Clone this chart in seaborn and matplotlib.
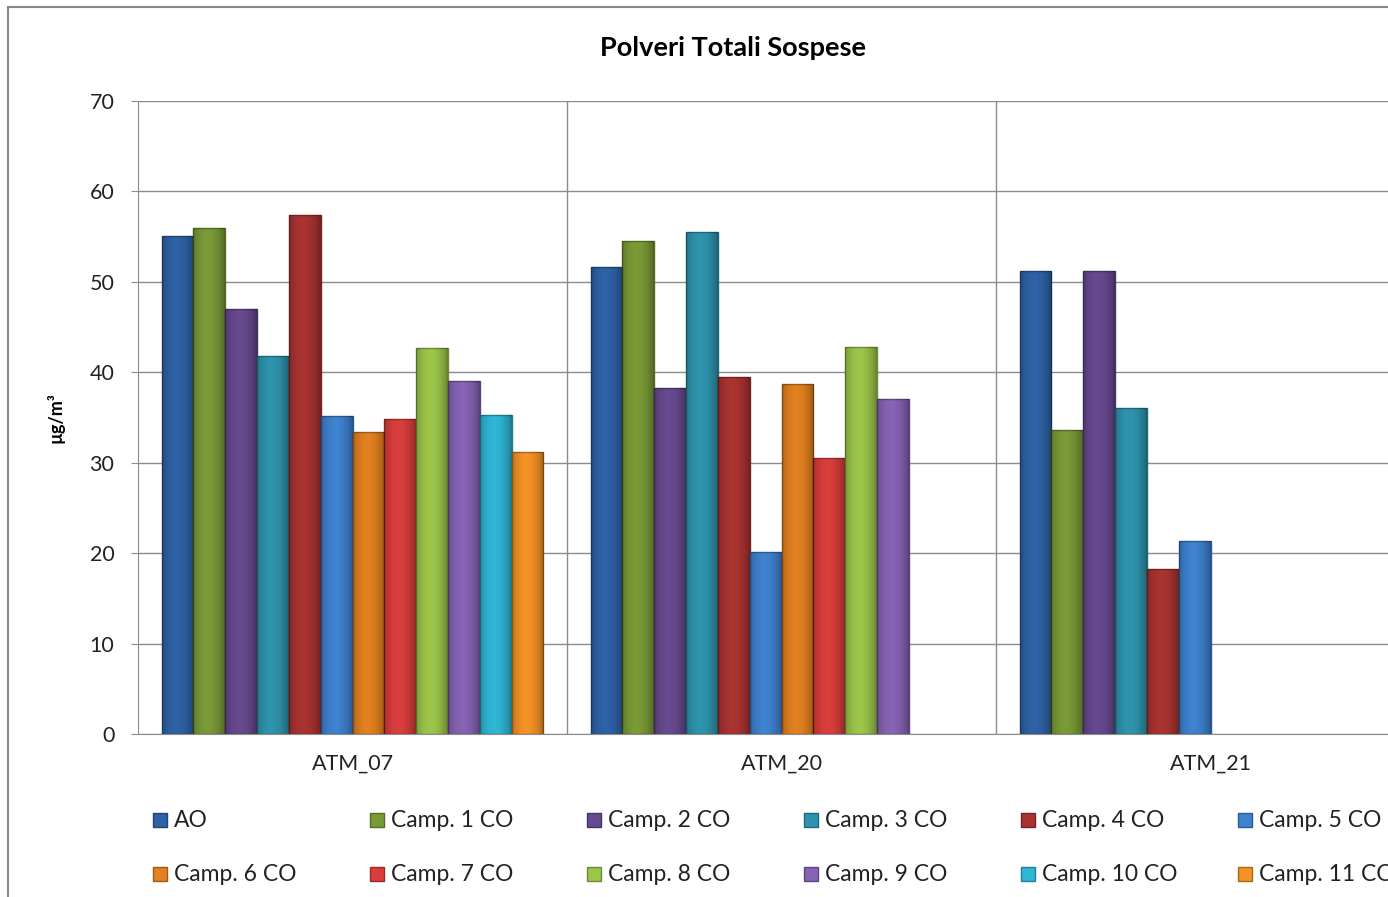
import pandas as pd
import numpy as np
import matplotlib
matplotlib.use('Agg')
import matplotlib.pyplot as plt
import matplotlib.patches as mpatches
import seaborn as sns

# Stazioni e campagne
stazioni = ['ATM_07', 'ATM_20', 'ATM_21']
campagne = ['AO', 'Camp. 1 CO', 'Camp. 2 CO', 'Camp. 3 CO', 'Camp. 4 CO', 'Camp. 5 CO',
            'Camp. 6 CO', 'Camp. 7 CO', 'Camp. 8 CO', 'Camp. 9 CO', 'Camp. 10 CO', 'Camp. 11 CO']

# Valori PTS (µg/m³) per stazione, nell'ordine delle campagne (None = non disponibile)
atm_07 = [55.1, 56.0, 47.0, 41.8, 57.4, 35.2, 33.4, 34.8, 42.7, 39.0, 35.3, 31.2]
atm_20 = [51.6, 54.5, 38.3, 55.5, 39.5, 20.1, 38.7, 30.5, 42.8, 37.0, None, None]
atm_21 = [51.2, 33.6, 51.2, 36.0, 18.2, 21.3, None, None, None, None, None, None]

colori = ['#2E62A6', '#7A9A37', '#67498F', '#2E94AD', '#A93331', '#3F82D0',
          '#E2811F', '#D93E3C', '#9BC64A', '#8763B3', '#2FB6D5', '#F59226']

righe = []
for stazione, valori in zip(stazioni, [atm_07, atm_20, atm_21]):
    for camp, v in zip(campagne, valori):
        if v is not None:
            righe.append({'stazione': stazione, 'campagna': camp, 'valore': v})
df = pd.DataFrame(righe)

plt.rcParams['font.family'] = ['Lato', 'DejaVu Sans']

fig = plt.figure(figsize=(13.88, 8.97), dpi=100)
W, H = 1388, 897
ax = fig.add_axes([138 / W, (H - 734) / H, 1287 / W, 633 / H])

sns.barplot(data=df, x='stazione', y='valore', hue='campagna', order=stazioni,
            hue_order=campagne, palette=colori, width=0.89, ax=ax,
            errorbar=None, legend=False, saturation=1)

# effetto rilievo: bordo scuro e ombreggiatura orizzontale
ombra = np.zeros((1, 64, 4))
t = np.linspace(0, 1, 64)
ombra[0, :, 3] = 0.32 * np.clip(np.abs(t - 0.45) / 0.55, 0, 1) ** 2
for patch in list(ax.patches):
    fc = np.array(patch.get_facecolor()[:3])
    patch.set_edgecolor(tuple(fc * 0.7))
    patch.set_linewidth(1.0)
    x0, w, h = patch.get_x(), patch.get_width(), patch.get_height()
    if np.isfinite(h) and h > 0:
        im = ax.imshow(ombra, extent=(x0, x0 + w, 0, h), aspect='auto', zorder=patch.get_zorder() + 0.1,
                       interpolation='bilinear')
        im.set_clip_path(patch)

ax.set_ylim(0, 70)
ax.set_xlim(-0.5, 2.5)
ax.set_yticks(range(0, 71, 10))
ax.yaxis.grid(True, color='#8C8C8C', linewidth=1)
ax.set_axisbelow(True)
for xb in [0.5, 1.5]:
    ax.axvline(xb, color='#8C8C8C', linewidth=1, zorder=0)
for side in ['top', 'right']:
    ax.spines[side].set_visible(False)
ax.spines['left'].set_color('#8C8C8C')
ax.spines['bottom'].set_color('#8C8C8C')
ax.tick_params(axis='y', length=5, color='#8C8C8C', labelsize=15.5, pad=12, labelcolor='#222222')
ax.tick_params(axis='x', length=0, labelsize=15.5, pad=14, labelcolor='#222222')
ax.set_xlabel('')
ax.set_ylabel('µg/m³', fontsize=13, fontweight='bold', labelpad=18)

fig.text(733 / W, 1 - 48 / H, 'Polveri Totali Sospese', ha='center', va='center',
         fontsize=19.5, fontweight='bold')

# cornice del grafico
fig.patches.append(mpatches.Rectangle((8 / W, -0.05), 1.1, 1 - 7 / H + 0.05, transform=fig.transFigure,
                                      fill=False, edgecolor='#888888', linewidth=1.5))

# legenda su due righe a passo costante (come in Excel)
for i, (camp, c) in enumerate(zip(campagne, colori)):
    riga, col = divmod(i, 6)
    xl = 153 + col * 217
    yl = 820 + riga * 54
    bordo = tuple(np.array(matplotlib.colors.to_rgb(c)) * 0.7)
    fig.patches.append(mpatches.Rectangle((xl / W, 1 - (yl + 7) / H), 14 / W, 14 / H,
                                          transform=fig.transFigure, facecolor=c,
                                          edgecolor=bordo, linewidth=1))
    fig.text((xl + 21) / W, 1 - yl / H, camp, ha='left', va='center', fontsize=16.5,
             color='#222222')

fig.savefig('out.png', dpi=100)
